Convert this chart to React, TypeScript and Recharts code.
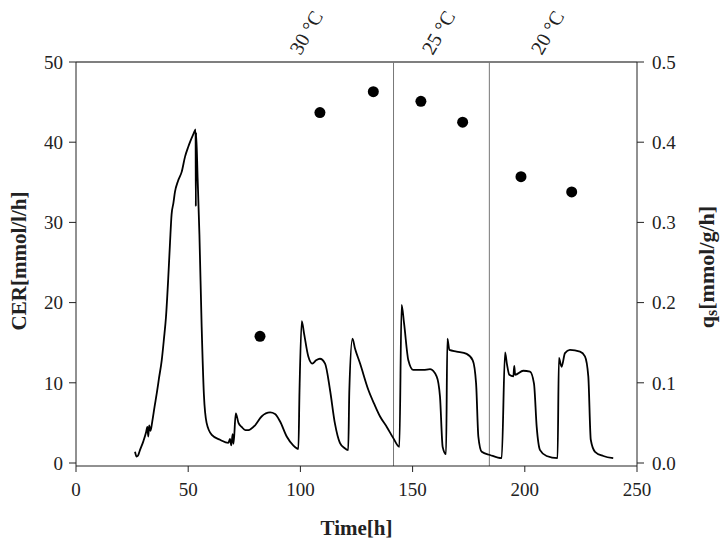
import React from "react";
import {
  ComposedChart,
  Line,
  Scatter,
  XAxis,
  YAxis,
  ReferenceLine,
  ReferenceDot,
} from "recharts";

// ---- data ----

// CER trace [mmol/l/h] over time [h]
const CER_TIME = [
  26.3, 27.0, 27.6, 28.5, 30.0, 31.2, 31.8, 32.2, 32.6, 33.2, 34.0, 35.0, 36.0, 37.0, 38.2, 39.2,
  40.1, 41.1, 41.9, 42.6, 43.4, 44.1, 45.5, 47.1, 48.6, 50.0, 50.8, 52.3, 53.3, 53.4, 53.5, 54.2,
  55.0, 56.0, 57.0, 58.2, 60.5, 64.2, 67.9, 68.6, 69.2, 69.8, 70.2, 71.2, 72.4, 73.8, 75.5, 76.8,
  79.8, 82.7, 86.5, 88.7, 90.9, 93.9, 96.8, 99.1, 99.6, 100.6, 101.6, 103.5, 105.3, 107.0, 108.7,
  111.0, 113.2, 115.4, 117.6, 119.5, 121.3, 121.8, 123.2, 124.3, 126.6, 130.3, 133.0, 135.5, 138.5,
  141.4, 144.1, 145.1, 146.2, 148.1, 150.3, 154.8, 157.8, 160.7, 162.2, 163.4, 164.9, 165.5, 166.4,
  169.6, 174.1, 176.8, 178.3, 179.3, 180.8, 184.5, 189.7, 191.2, 192.0, 193.1, 194.9, 195.3, 195.7,
  199.3, 202.3, 204.1, 205.3, 206.8, 209.7, 214.6, 215.2, 216.4, 217.9, 220.1, 224.6, 226.8, 228.3,
  229.4, 231.3, 235.0, 239.4,
];
const CER_VALUES = [
  1.4, 0.8, 0.9, 1.6, 2.7, 3.8, 4.5, 3.3, 4.7, 4.0, 5.2, 7.0, 8.7, 10.6, 12.8, 15.5,
  18.2, 23.0, 27.5, 31.0, 32.4, 33.8, 35.2, 36.3, 38.2, 39.4, 40.0, 41.0, 41.6, 32.0, 41.2, 35.5,
  28.5, 17.0, 8.5, 5.0, 3.5, 2.9, 2.5, 3.0, 2.2, 3.6, 2.4, 6.2, 5.0, 4.5, 4.1, 4.1,
  4.7, 5.8, 6.3, 6.1, 5.2, 3.3, 2.2, 1.75, 9.0, 17.7, 16.2, 13.3, 12.4, 12.8, 13.0,
  12.4, 9.1, 4.9, 2.5, 1.9, 1.6, 9.0, 15.5, 14.3, 12.4, 9.1, 7.3, 5.8, 4.5,
  3.1, 2.0, 19.7, 17.4, 12.8, 11.6, 11.6, 11.7, 10.8, 8.3, 2.0, 1.1, 15.5, 14.1,
  13.9, 13.6, 12.8, 9.9, 3.3, 1.4, 1.0, 0.6, 13.8, 12.4, 11.0, 10.8, 12.1, 11.0,
  11.5, 11.4, 9.9, 4.5, 1.6, 0.87, 0.6, 13.1, 12.0, 13.7, 14.1, 13.9, 13.3, 10.8,
  2.9, 1.4, 0.87, 0.6,
];

// specific uptake rate qs [mmol/g/h]
const QS_TIME = [82.0, 108.7, 132.5, 153.7, 172.3, 198.3, 220.9];
const QS_VALUES = [0.158, 0.437, 0.463, 0.451, 0.425, 0.357, 0.338];

// temperature shifts
const SHIFT_TIMES = [141.5, 184.2];
const TEMP_LABELS = ["30 °C", "25 °C", "20 °C"];
const TEMP_LABEL_TIMES = [100.0, 159.0, 207.5];

const TIME_TICKS = [0, 50, 100, 150, 200, 250];
const CER_TICKS = [0, 10, 20, 30, 40, 50];
const QS_TICKS = [0, 0.1, 0.2, 0.3, 0.4, 0.5];

const cerData = CER_TIME.map((t, i) => ({ t, cer: CER_VALUES[i] }));
const qsData = QS_TIME.map((t, i) => ({ t, qs: QS_VALUES[i] }));

const FONT = "'Liberation Serif', 'DejaVu Serif', serif";
const INK = "#222";
const tickStyle = { fill: INK, fontSize: 19, fontFamily: FONT };

function CerLabel({ viewBox }: any) {
  const cx = viewBox.x + 19;
  const cy = viewBox.y + viewBox.height / 2 - 3;
  return (
    <text
      x={cx}
      y={cy}
      transform={`rotate(-90 ${cx} ${cy})`}
      textAnchor="middle"
      dominantBaseline="central"
      fontFamily={FONT}
      fontWeight="bold"
      fontSize={21}
      fill={INK}
    >
      CER[mmol/l/h]
    </text>
  );
}

function QsLabel({ viewBox }: any) {
  const cx = viewBox.x + 69;
  const cy = viewBox.y + viewBox.height / 2 + 3;
  return (
    <text
      x={cx}
      y={cy}
      transform={`rotate(-90 ${cx} ${cy})`}
      textAnchor="middle"
      dominantBaseline="central"
      fontFamily={FONT}
      fontWeight="bold"
      fontSize={22}
      fill={INK}
    >
      q
      <tspan fontSize={16} dy={5}>
        s
      </tspan>
      <tspan dy={-5}>[mmol/g/h]</tspan>
    </text>
  );
}

function TimeLabel({ viewBox }: any) {
  return (
    <text
      x={viewBox.x + viewBox.width / 2}
      y={viewBox.y + 62}
      textAnchor="middle"
      dominantBaseline="central"
      fontFamily={FONT}
      fontWeight="bold"
      fontSize={21}
      fill={INK}
    >
      Time[h]
    </text>
  );
}

function TempLabel({ viewBox, value }: any) {
  const x = viewBox.x;
  const y = viewBox.y - 6;
  return (
    <text
      x={x}
      y={y}
      transform={`rotate(-60 ${x} ${y})`}
      fontFamily={FONT}
      fontSize={20}
      fill={INK}
    >
      {value}
    </text>
  );
}

const Dot = (props: any) => <circle cx={props.cx} cy={props.cy} r={5.5} fill="#000" />;

export default function App() {
  return (
    <div style={{ position: "absolute", left: 0, top: 0, background: "#fff", fontFamily: FONT }}>
      <ComposedChart width={726} height={549} margin={{ top: 62, right: 0, bottom: 0, left: 0 }}>
        <XAxis
          type="number"
          dataKey="t"
          domain={[0, 250]}
          ticks={TIME_TICKS}
          height={83}
          tickSize={6}
          tickMargin={11}
          tick={tickStyle}
          stroke={INK}
          label={<TimeLabel />}
        />
        <YAxis
          yAxisId="cer"
          domain={[-0.374, 50]}
          ticks={CER_TICKS}
          width={76}
          tickSize={7}
          tickMargin={6}
          tick={tickStyle}
          stroke={INK}
          label={<CerLabel />}
        />
        <YAxis
          yAxisId="qs"
          orientation="right"
          domain={[-0.00374, 0.5]}
          ticks={QS_TICKS}
          tickFormatter={(v: number) => v.toFixed(1)}
          width={89}
          tickSize={7}
          tickMargin={8}
          tick={tickStyle}
          stroke={INK}
          label={<QsLabel />}
        />
        <ReferenceLine yAxisId="cer" y={50} stroke="#000" strokeWidth={1.2} />
        {SHIFT_TIMES.map((t) => (
          <ReferenceLine key={t} yAxisId="cer" x={t} stroke="#777" strokeWidth={1} />
        ))}
        {TEMP_LABEL_TIMES.map((t, i) => (
          <ReferenceDot
            key={t}
            yAxisId="cer"
            x={t}
            y={50}
            r={0}
            fill="none"
            stroke="none"
            ifOverflow="visible"
            label={<TempLabel value={TEMP_LABELS[i]} />}
          />
        ))}
        <Line
          yAxisId="cer"
          data={cerData}
          dataKey="cer"
          type="monotoneX"
          stroke="#000"
          strokeWidth={1.8}
          dot={false}
          activeDot={false}
          isAnimationActive={false}
        />
        <Scatter
          yAxisId="qs"
          data={qsData}
          dataKey="qs"
          shape={Dot}
          isAnimationActive={false}
        />
      </ComposedChart>
    </div>
  );
}
